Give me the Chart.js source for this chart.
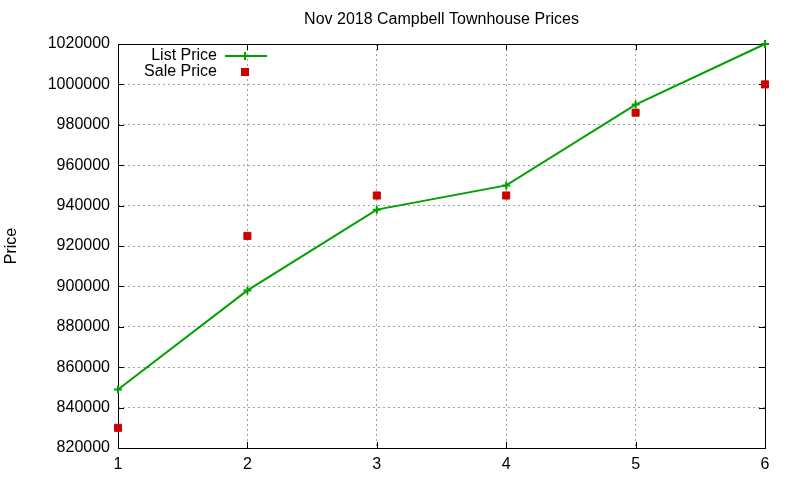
<!DOCTYPE html>
<html><head><meta charset="utf-8">
<script src="https://cdn.jsdelivr.net/npm/chart.js@4.4.0/dist/chart.umd.min.js"></script>
<style>html,body{margin:0;padding:0;background:#fff}#wrap{width:800px;height:480px}</style>
</head><body><div id="wrap"><canvas id="c" width="800" height="480"></canvas></div>
<script>
const titleText = "Nov 2018 Campbell Townhouse Prices";
const yTitle = "Price";
const months = [1, 2, 3, 4, 5, 6];
const listPrice = [849000, 898000, 938000, 950000, 990000, 1020000];
const salePrice = [830000, 925000, 945000, 945000, 986000, 1000000];
const seriesNames = ["List Price", "Sale Price"];

const FONT = "'Liberation Sans', Arial, sans-serif";
const GREEN = "#00a000", RED = "#cc0000";

const decor = {
  id: 'decor',
  beforeDatasetsDraw(chart) {
    const ctx = chart.ctx, a = chart.chartArea;
    const xs = chart.scales.x, ys = chart.scales.y;
    ctx.save();
    ctx.strokeStyle = '#000'; ctx.lineWidth = 1; ctx.setLineDash([]);
    ctx.strokeRect(Math.round(a.left) + 0.5, Math.round(a.top) + 0.5, Math.round(a.right - a.left), Math.round(a.bottom - a.top));
    ctx.beginPath();
    ys.ticks.forEach(t => {
      const y = Math.round(ys.getPixelForValue(t.value)) + 0.5;
      ctx.moveTo(a.left, y); ctx.lineTo(a.left + 6, y);
      ctx.moveTo(a.right, y); ctx.lineTo(a.right - 6, y);
    });
    xs.ticks.forEach(t => {
      const x = Math.round(xs.getPixelForValue(t.value)) + 0.5;
      ctx.moveTo(x, a.bottom); ctx.lineTo(x, a.bottom - 6);
      ctx.moveTo(x, a.top); ctx.lineTo(x, a.top + 6);
    });
    ctx.stroke();
    ctx.restore();
  },
  afterDraw(chart) {
    const ctx = chart.ctx, a = chart.chartArea;
    ctx.save();
    ctx.fillStyle = '#000';
    ctx.font = '16px ' + FONT;
    ctx.textAlign = 'center'; ctx.textBaseline = 'middle';
    ctx.fillText(titleText, (a.left + a.right) / 2, 20);
    ctx.save();
    ctx.translate(12, (a.top + a.bottom) / 2);
    ctx.rotate(-Math.PI / 2);
    ctx.fillText(yTitle, 0, 0);
    ctx.restore();
    ctx.textAlign = 'right';
    ctx.fillText(seriesNames[0], 217, 56);
    ctx.fillText(seriesNames[1], 217, 72);
    ctx.strokeStyle = GREEN; ctx.lineWidth = 2;
    ctx.beginPath(); ctx.moveTo(225, 56); ctx.lineTo(267, 56);
    ctx.moveTo(245, 52); ctx.lineTo(245, 60); ctx.stroke();
    ctx.fillStyle = RED;
    ctx.fillRect(241, 68, 8, 8);
    ctx.restore();
  }
};

new Chart(document.getElementById('c'), {
  type: 'line',
  data: {
    datasets: [
      {
        label: seriesNames[0],
        data: months.map((m, i) => ({ x: m, y: listPrice[i] })),
        borderColor: GREEN, backgroundColor: GREEN, borderWidth: 2,
        pointStyle: 'cross', pointRadius: 4, pointBorderWidth: 2,
        tension: 0, fill: false, clip: false
      },
      {
        label: seriesNames[1],
        data: months.map((m, i) => ({ x: m, y: salePrice[i] })),
        showLine: false, clip: false,
        borderColor: RED, backgroundColor: RED,
        pointStyle: 'rect', pointRadius: 5, pointBorderWidth: 1
      }
    ]
  },
  options: {
    responsive: false, animation: false, devicePixelRatio: 1,
    layout: { padding: { left: 0, right: 35, top: 44, bottom: 0 } },
    plugins: { legend: { display: false }, title: { display: false }, tooltip: { enabled: false } },
    scales: {
      x: {
        type: 'linear', min: 1, max: 6,
        afterFit: s => { s.height = 32; },
        ticks: { stepSize: 1, color: '#000', font: { family: FONT, size: 16 }, padding: 7 },
        grid: { color: '#a0a0a0', drawTicks: false },
        border: { display: false, dash: [2, 3] }
      },
      y: {
        min: 820000, max: 1020000,
        afterFit: s => { s.width = 118; },
        ticks: { stepSize: 20000, color: '#000', font: { family: FONT, size: 16 }, padding: 8, callback: v => String(v) },
        grid: { color: '#a0a0a0', drawTicks: false },
        border: { display: false, dash: [2, 3] }
      }
    }
  },
  plugins: [decor]
});
</script>
</body></html>
